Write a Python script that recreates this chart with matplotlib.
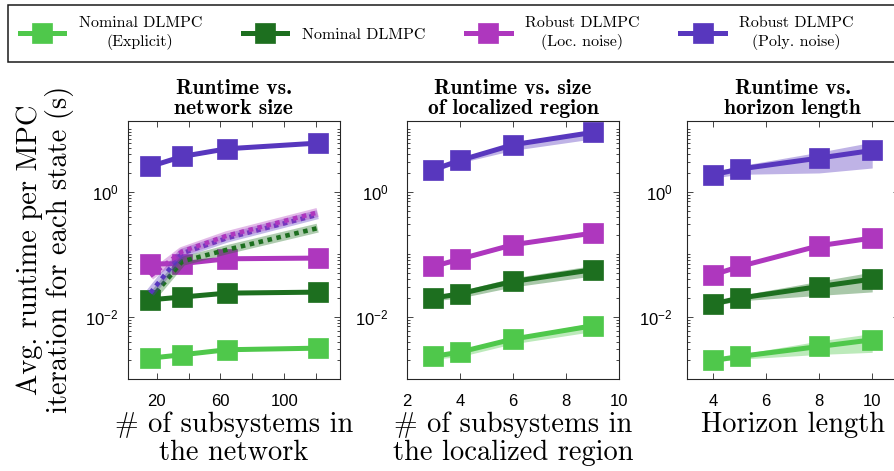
import numpy as np
import matplotlib
matplotlib.use("Agg")
import matplotlib.pyplot as plt
from matplotlib.lines import Line2D
from matplotlib.ticker import FixedLocator, LogLocator, NullFormatter, LogFormatterSciNotation

# colours of the four methods
c_expl = '#4FC84B'
c_nom = '#1D6F1F'
c_loc = '#AE37BE'
c_poly = '#5837BE'

legend_labels = ['Nominal DLMPC\n(Explicit)', 'Nominal DLMPC',
                 'Robust DLMPC\n(Loc. noise)', 'Robust DLMPC\n(Poly. noise)']

# ---- panel 1: runtime vs network size
net_x = [16, 36, 64, 121]
net_expl = [0.00218, 0.00247, 0.00297, 0.00315]
net_expl_lo = [0.00208, 0.00236, 0.00284, 0.00302]
net_expl_hi = [0.00228, 0.00258, 0.00310, 0.00328]
net_nom = [0.0187, 0.0207, 0.0239, 0.0248]
net_nom_lo = [0.0179, 0.0198, 0.0229, 0.0238]
net_nom_hi = [0.0195, 0.0216, 0.0249, 0.0258]
net_loc = [0.0697, 0.0710, 0.0847, 0.0869]
net_loc_lo = [0.0670, 0.0682, 0.0815, 0.0836]
net_loc_hi = [0.0724, 0.0738, 0.0879, 0.0902]
net_poly = [2.54, 3.67, 4.87, 6.0]
net_poly_lo = [2.42, 3.50, 4.65, 5.75]
net_poly_hi = [2.66, 3.84, 5.09, 6.25]
# dotted curves (centralized)
net_cent_nom = [0.019, 0.077, 0.118, 0.262]
net_cent_loc = [0.045, 0.111, 0.198, 0.467]
net_cent_poly = [0.024, 0.104, 0.181, 0.43]

# ---- panel 2: runtime vs size of localized region
loc_x = [3, 4, 6, 9]
loc_expl = [0.00232, 0.00272, 0.0044, 0.00718]
loc_expl_lo = [0.0021, 0.0023, 0.0037, 0.0058]
loc_expl_hi = [0.0025, 0.0029, 0.0047, 0.0080]
loc_nom = [0.0199, 0.0233, 0.0367, 0.0565]
loc_nom_lo = [0.018, 0.020, 0.030, 0.045]
loc_nom_hi = [0.021, 0.026, 0.042, 0.066]
loc_loc = [0.0638, 0.0837, 0.142, 0.218]
loc_loc_lo = [0.060, 0.079, 0.135, 0.207]
loc_loc_hi = [0.067, 0.088, 0.149, 0.229]
loc_poly = [2.25, 3.17, 5.65, 8.9]
loc_poly_lo = [2.1, 2.9, 4.6, 7.0]
loc_poly_hi = [2.4, 3.4, 6.1, 9.6]

# ---- panel 3: runtime vs horizon length
hor_x = [4, 5, 8, 10]
hor_expl = [0.0020, 0.00232, 0.00335, 0.00428]
hor_expl_lo = [0.0019, 0.0021, 0.0025, 0.0027]
hor_expl_hi = [0.0021, 0.0025, 0.0041, 0.0054]
hor_nom = [0.0161, 0.0199, 0.0305, 0.0401]
hor_nom_lo = [0.015, 0.018, 0.022, 0.025]
hor_nom_hi = [0.017, 0.022, 0.037, 0.052]
hor_loc = [0.047, 0.0638, 0.137, 0.1816]
hor_loc_lo = [0.045, 0.061, 0.131, 0.174]
hor_loc_hi = [0.049, 0.066, 0.143, 0.189]
hor_poly = [1.87, 2.31, 3.46, 4.58]
hor_poly_lo = [1.66, 1.9, 2.0, 2.4]
hor_poly_hi = [2.1, 2.6, 4.3, 6.2]

plt.rcParams['font.family'] = ['Liberation Sans', 'DejaVu Sans']
plt.rcParams['mathtext.fontset'] = 'custom'
plt.rcParams['mathtext.rm'] = 'Liberation Sans'
plt.rcParams['axes.unicode_minus'] = True
serif = 'cmr10'
serif_b = 'cmb10'

fig = plt.figure(figsize=(8.94, 4.71), dpi=100)
W, H = 894.0, 471.0


def make_ax(left_px, width_px):
    return fig.add_axes([left_px / W, 1 - 378.5 / H, width_px / W, 258 / H])


ax1 = make_ax(127.7, 212.3)
ax2 = make_ax(406.7, 212.6)
ax3 = make_ax(686.7, 212.0)

cols = [c_expl, c_nom, c_loc, c_poly]


def draw(ax, x, ys, los, his):
    hs = []
    for y, lo, hi, c in zip(ys, los, his, cols):
        ax.fill_between(x, lo, hi, color=c, alpha=0.38, lw=0)
        h, = ax.plot(x, y, '-s', color=c, lw=3.6, ms=14, mec=c, mew=0.5)
        hs.append(h)
    return hs


handles = draw(ax1, net_x, [net_expl, net_nom, net_loc, net_poly],
               [net_expl_lo, net_nom_lo, net_loc_lo, net_poly_lo],
               [net_expl_hi, net_nom_hi, net_loc_hi, net_poly_hi])
for y, c in zip([net_cent_nom, net_cent_poly, net_cent_loc], [c_nom, c_poly, c_loc]):
    ax1.plot(net_x, y, color=c, alpha=0.35, lw=6.5, solid_capstyle='butt')
    ax1.plot(net_x, y, color=c, lw=3.3, ls=(0, (1, 1)), dash_capstyle='butt')

draw(ax2, loc_x, [loc_expl, loc_nom, loc_loc, loc_poly],
     [loc_expl_lo, loc_nom_lo, loc_loc_lo, loc_poly_lo],
     [loc_expl_hi, loc_nom_hi, loc_loc_hi, loc_poly_hi])
draw(ax3, hor_x, [hor_expl, hor_nom, hor_loc, hor_poly],
     [hor_expl_lo, hor_nom_lo, hor_loc_lo, hor_poly_lo],
     [hor_expl_hi, hor_nom_hi, hor_loc_hi, hor_poly_hi])

ax1.set_xlim(1.8, 135)
ax1.set_xticks([20, 40, 60, 80, 100, 120])
ax1.set_xticklabels(['20', '', '60', '', '100', ''])
ax2.set_xlim(2, 10)
ax2.set_xticks([2, 4, 6, 8, 10])
ax3.set_xlim(3, 11)
ax3.set_xticks([4, 6, 8, 10])

titles = ['Runtime vs.\nnetwork size', 'Runtime vs. size\nof localized region', 'Runtime vs.\nhorizon length']
xlabels = ['# of subsystems in\nthe network', '# of subsystems in\nthe localized region', 'Horizon length']
ypads = [6.5, 13, 10]
for ax, t, xl, yp in zip([ax1, ax2, ax3], titles, xlabels, ypads):
    ax.set_yscale('log')
    ax.set_ylim(1.03e-3, 13.8)
    ax.yaxis.set_major_locator(FixedLocator([1e-2, 1e0]))
    ax.yaxis.set_major_formatter(LogFormatterSciNotation())
    ax.yaxis.set_minor_locator(LogLocator(base=10, subs=np.arange(1, 10), numticks=30))
    ax.yaxis.set_minor_formatter(NullFormatter())
    ax.tick_params(which='both', direction='in', top=True, right=True, color='#262626', width=0.6)
    ax.tick_params(which='major', length=4, labelsize=12)
    ax.tick_params(which='minor', length=2)
    ax.tick_params(axis='x', pad=11)
    ax.tick_params(axis='y', pad=yp)
    for s in ax.spines.values():
        s.set_color('#262626')
        s.set_linewidth(0.8)
    ax.set_title(t, fontfamily=serif_b, fontsize=15.5, pad=5, linespacing=1.05)
    ax.set_xlabel(xl, fontfamily=serif, fontsize=20.5, labelpad=2, linespacing=1.1)

ax1.set_ylabel('Avg. runtime per MPC\niteration for each state (s)', fontfamily=serif,
               fontsize=20.5, labelpad=8, linespacing=1.08)

# legend with an empty trailing column so the frame runs off the right edge
blank = Line2D([], [], color='none')
leg = fig.legend(handles + [blank], legend_labels + [''], ncol=5, loc='upper left',
                 bbox_to_anchor=(8 / W, 1 - 5 / H), borderaxespad=0, frameon=True,
                 fancybox=False, edgecolor='#1a1a1a', framealpha=1, handlelength=2.8,
                 handletextpad=0.9, columnspacing=2.55, borderpad=0.72, markerscale=1.07,
                 prop={'family': serif, 'size': 11.5})
leg.get_frame().set_linewidth(1.1)
for t in leg.get_texts():
    t.set_multialignment('center')
    t.set_linespacing(1.35)

fig.savefig('out.png', dpi=100)
